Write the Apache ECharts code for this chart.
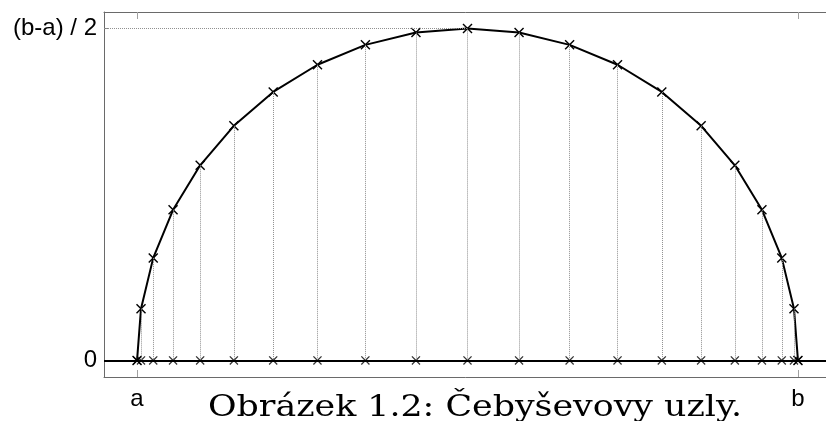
<!DOCTYPE html>
<html>
<head>
<meta charset="utf-8">
<style>
  html, body { margin: 0; padding: 0; background: #fff; }
  #main { width: 826px; height: 421px; }
</style>
<script src="https://cdn.jsdelivr.net/npm/echarts@6/dist/echarts.min.js"></script>
</head>
<body>
<div id="main"></div>
<script>
// uzly (x) a jejich body na půlkružnici (y)
var nodeX = [-1, -0.988, -0.951, -0.891, -0.809, -0.707, -0.588, -0.454, -0.309, -0.156, 0,
             0.156, 0.309, 0.454, 0.588, 0.707, 0.809, 0.891, 0.951, 0.988, 1];
var nodeY = [0, 0.156, 0.309, 0.454, 0.588, 0.707, 0.809, 0.891, 0.951, 0.988, 1,
             0.988, 0.951, 0.891, 0.809, 0.707, 0.588, 0.454, 0.309, 0.156, 0];
var xTicks = [-1, 1];
var xTickLabels = ['a', 'b'];
var yTicks = [0, 1];
var yTickLabels = ['0', '(b-a) / 2'];
var caption = 'Obrázek 1.2: Čebyševovy uzly.';

var xMin = -1.1, xMax = 1.1;
var cross = 'path://M0,1L1,0L5,4L9,0L10,1L6,5L10,9L9,10L5,6L1,10L0,9L4,5Z';

var curve = nodeX.map(function (x, i) { return [x, nodeY[i]]; });
var base = nodeX.map(function (x) { return [x, 0]; });
var drops = nodeX.map(function (x, i) {
    return [{ coord: [x, nodeY[i]] }, { coord: [x, 0] }];
});

var myChart = echarts.init(document.getElementById('main'));

var option = {
    animation: false,
    backgroundColor: '#fff',
    grid: { left: 104, right: -5, top: 12, bottom: 44, outerBoundsMode: 'none' },
    xAxis: [{
        type: 'value', min: xMin, max: xMax, position: 'bottom',
        axisLine: { show: true, onZero: false, lineStyle: { color: '#6a6a6a', width: 1 } },
        axisTick: { show: true, inside: true, length: 7, customValues: xTicks, lineStyle: { color: '#a0a0a0' } },
        axisLabel: {
            show: true, customValues: xTicks, margin: 10,
            fontFamily: 'Liberation Sans', fontSize: 24, color: '#000',
            formatter: function (v) { return xTickLabels[xTicks.indexOf(v)]; }
        },
        splitLine: { show: false }
    }, {
        type: 'value', min: xMin, max: xMax, position: 'top',
        axisLine: { show: true, onZero: false, lineStyle: { color: '#6a6a6a', width: 1 } },
        axisTick: { show: true, inside: true, length: 7, customValues: xTicks, lineStyle: { color: '#a0a0a0' } },
        axisLabel: { show: false },
        splitLine: { show: false }
    }],
    yAxis: {
        type: 'value', min: -0.05, max: 1.05,
        axisLine: { show: true, onZero: false, lineStyle: { color: '#6a6a6a', width: 1 } },
        axisTick: { show: true, inside: true, length: 5, customValues: yTicks, lineStyle: { color: '#808080' } },
        axisLabel: {
            show: true, customValues: yTicks, margin: 7,
            fontFamily: 'Liberation Sans', fontSize: 24, color: '#000',
            formatter: function (v) { return yTickLabels[yTicks.indexOf(v)]; }
        },
        splitLine: { show: false }
    },
    series: [{
        type: 'scatter',
        data: base,
        symbol: cross, symbolSize: 9,
        itemStyle: { color: '#000' },
        z: 3,
        markLine: {
            silent: true, symbol: 'none', label: { show: false },
            lineStyle: { color: '#909090', width: 1, type: [1, 1] },
            data: drops.concat([[{ coord: [xMin, 1] }, { coord: [0, 1] }]])
        }
    }, {
        type: 'line',
        data: base,
        symbol: 'none',
        lineStyle: { width: 0 },
        z: 2,
        markLine: {
            silent: true, symbol: 'none', label: { show: false },
            lineStyle: { color: '#000', width: 2, type: 'solid' },
            data: [{ yAxis: 0 }]
        }
    }, {
        type: 'line',
        data: curve,
        symbol: cross, symbolSize: 10, showSymbol: true,
        lineStyle: { color: '#000', width: 2 },
        itemStyle: { color: '#000' },
        z: 4
    }],
    graphic: [{
        type: 'text',
        x: 475, y: 408,
        scaleX: 1.16,
        style: {
            text: caption,
            font: '30px "DejaVu Serif"',
            fill: '#000',
            align: 'center',
            verticalAlign: 'middle'
        }
    }]
};

myChart.setOption(option);
</script>
</body>
</html>
